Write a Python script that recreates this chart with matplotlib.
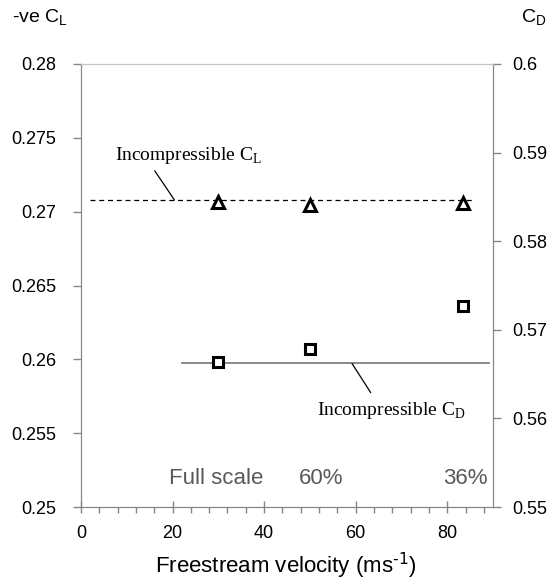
import matplotlib
matplotlib.use("Agg")
import matplotlib.pyplot as plt
from matplotlib.ticker import MultipleLocator

# data
velocity = [30, 50, 83.5]
neg_cl = [0.27065, 0.27044, 0.27061]
cd = [0.5664, 0.5678, 0.5727]

cl_incomp = 0.2708
cl_incomp_span = [2, 85.5]
cd_incomp = 0.5662
cd_incomp_span = [22, 89.2]

cl_ticks = [0.25, 0.255, 0.26, 0.265, 0.27, 0.275, 0.28]
cd_ticks = [0.55, 0.56, 0.57, 0.58, 0.59, 0.6]

scale_labels = ["Full scale", "60%", "36%"]
scale_label_x = [29.5, 52.4, 84]

plt.rcParams['font.family'] = ['Liberation Sans', 'DejaVu Sans']
plt.rcParams['axes.unicode_minus'] = False
spine_col = '#868686'

fig = plt.figure(figsize=(5.49, 5.8), dpi=100)
ax = fig.add_axes([81/549, 1 - 507/580, (493-81)/549, (507-64)/580])
ax2 = ax.twinx()

# left axis: -ve CL
ax.set_xlim(0, 90)
ax.set_ylim(0.25, 0.28)
ax.set_yticks(cl_ticks)
ax.set_yticklabels([f"{v:g}" for v in cl_ticks])
ax.xaxis.set_major_locator(MultipleLocator(20))
ax.xaxis.set_minor_locator(MultipleLocator(4))
ax.tick_params(axis='y', direction='out', length=6, width=1, color=spine_col,
               labelsize=13, pad=12)
ax.tick_params(axis='x', which='major', direction='inout', length=8, width=1,
               color=spine_col, labelsize=13, pad=9)
ax.tick_params(axis='x', which='minor', direction='out', length=4, width=1,
               color=spine_col)

# right axis: CD
ax2.set_ylim(0.55, 0.6)
ax2.set_yticks(cd_ticks)
ax2.set_yticklabels([f"{v:g}" for v in cd_ticks])
ax2.tick_params(axis='y', direction='out', length=6, width=1, color=spine_col,
                labelsize=13, pad=8)

for a in (ax, ax2):
    for s in ('left', 'right', 'bottom'):
        a.spines[s].set_color(spine_col)
    a.spines['top'].set_color('#c4c4c4')

# incompressible lines
ax.plot(cl_incomp_span, [cl_incomp, cl_incomp], color='black', lw=0.9,
        ls=(0, (4, 3)))
ax2.plot(cd_incomp_span, [cd_incomp, cd_incomp], color='#808080', lw=1.3)

# measured points
ax.plot(velocity, neg_cl, ls='none', marker='^', ms=8.5, mfc='white',
        mec='black', mew=2.2)
ax2.plot(velocity, cd, ls='none', marker='s', ms=7, mfc='white',
         mec='black', mew=2.2)

# leader lines and labels
ax.annotate('', xy=(20.4, cl_incomp), xytext=(16.1, 0.27277),
            arrowprops=dict(arrowstyle='-', lw=0.9, color='black',
                            shrinkA=0, shrinkB=0))
ax.text(7.45, 0.2735, r'Incompressible C$_{\mathregular{L}}$',
        family='Liberation Serif', fontsize=14, va='baseline', ha='left')
ax2.annotate('', xy=(59.2, cd_incomp), xytext=(63.3, 0.5629),
             arrowprops=dict(arrowstyle='-', lw=0.9, color='black',
                             shrinkA=0, shrinkB=0))
ax2.text(51.6, 0.56038, r'Incompressible C$_{\mathregular{D}}$',
         family='Liberation Serif', fontsize=14, va='baseline', ha='left')

for lab, xv in zip(scale_labels, scale_label_x):
    ax.text(xv, 0.065, lab, transform=ax.get_xaxis_transform(), ha='center',
            va='center', fontsize=16, color='#595959')

fig.text(286/549, 1 - 566/580, r'Freestream velocity (ms$^{\text{-1}}$)',
         ha='center', va='center', fontsize=16)
fig.text(12/549, 1 - 18/580, r'-ve C$_{\mathregular{L}}$', ha='left',
         va='center', fontsize=14)
fig.text(546/549, 1 - 18/580, r'C$_{\mathregular{D}}$', ha='right',
         va='center', fontsize=14)

fig.savefig('out.png', dpi=100)
